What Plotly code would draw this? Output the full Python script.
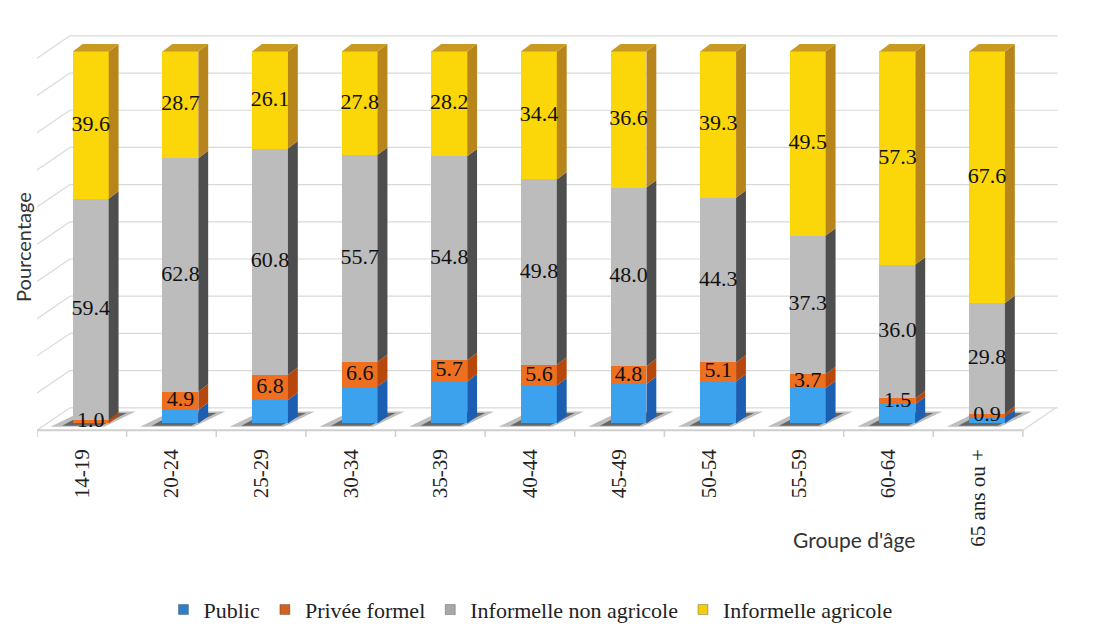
import plotly.graph_objects as go

# Age groups and employment-sector shares (%)
groupes = ["14-19", "20-24", "25-29", "30-34", "35-39", "40-44",
           "45-49", "50-54", "55-59", "60-64", "65 ans ou +"]
public = [0.0, 3.6, 6.3, 9.9, 11.3, 10.2, 10.6, 11.3, 9.5, 5.2, 1.7]
privee_formel = [1.0, 4.9, 6.8, 6.6, 5.7, 5.6, 4.8, 5.1, 3.7, 1.5, 0.9]
informel_non_agricole = [59.4, 62.8, 60.8, 55.7, 54.8, 49.8, 48.0, 44.3, 37.3, 36.0, 29.8]
informel_agricole = [39.6, 28.7, 26.1, 27.8, 28.2, 34.4, 36.6, 39.3, 49.5, 57.3, 67.6]

series = [
    # name, values, front colour, side colour, show value labels
    ("Public", public, "#3da2ee", "#1b5eb2", False),
    ("Privée formel", privee_formel, "#ee6f20", "#b8470c", True),
    ("Informelle non agricole", informel_non_agricole, "#bcbcbc", "#4e4e4e", True),
    ("Informelle agricole", informel_agricole, "#fbd70a", "#b8851a", True),
]
legend_colors = ["#2f7fc8", "#d2601e", "#a9a9a9", "#f2cd10"]

x = list(range(len(groupes)))
W = 0.40        # front face width (x units)
DX = 0.11       # pseudo-3D depth, x units
DY = 2.0        # pseudo-3D depth, y units
TOP_COLOR = "#c99a22"

SERIF = "Liberation Serif, Times New Roman, serif"
SANS = "Lato, Open Sans, sans-serif"

fig = go.Figure()

# Front faces: stacked bars
for name, vals, front, side, _ in series:
    fig.add_trace(go.Bar(
        x=x, y=vals, width=W, name=name, marker=dict(color=front, line=dict(width=0)),
        showlegend=False, hoverinfo="x+y+name",
    ))

# Right-hand side faces of each stacked segment
bases = [0.0] * len(x)
label_x, label_y, label_t = [], [], []
for name, vals, front, side, show in series:
    px, py = [], []
    for i, v in enumerate(vals):
        b, t = bases[i], bases[i] + v
        if v > 0:
            xr = i + W / 2
            px += [xr, xr + DX, xr + DX, xr, xr, None]
            py += [b, b + DY, t + DY, t, b, None]
        if show:
            label_x.append(i)
            label_y.append(b + v / 2)
            label_t.append(f"{v:.1f}")
        bases[i] = t
    fig.add_trace(go.Scatter(
        x=px, y=py, mode="lines", fill="toself", fillcolor=side,
        line=dict(width=0, color=side), showlegend=False, hoverinfo="skip",
    ))

# Top faces of the columns
tx, ty = [], []
for i in x:
    top = bases[i]
    xl, xr = i - W / 2, i + W / 2
    tx += [xl, xl + DX, xr + DX, xr, xl, None]
    ty += [top, top + DY, top + DY, top, top, None]
fig.add_trace(go.Scatter(
    x=tx, y=ty, mode="lines", fill="toself", fillcolor=TOP_COLOR,
    line=dict(width=0, color=TOP_COLOR), showlegend=False, hoverinfo="skip",
))

# Value labels
fig.add_trace(go.Scatter(
    x=label_x, y=label_y, text=label_t, mode="text",
    textfont=dict(family=SERIF, size=22, color="#111111"),
    showlegend=False, hoverinfo="skip",
))

# Legend entries (small square keys)
for (name, *_), col in zip(series, legend_colors):
    fig.add_trace(go.Scatter(
        x=[None], y=[None], mode="markers", name=name,
        marker=dict(symbol="square", size=10, color=col,
                    line=dict(width=1, color="rgba(0,0,0,0.25)")),
    ))

# Chart walls, floor and gridlines
X0, X1 = -0.6, 10.4          # front floor edge
BX = 0.368                   # back-wall x offset
BY = 6.04                    # back-wall y offset relative to front floor
FY = -1.84                   # front floor edge level
grid = "#d9d9d9"
shapes = []
for v in range(0, 101, 10):
    yb = v + FY + BY
    shapes.append(dict(type="line", xref="x", yref="y", x0=X0 + BX, x1=X1 + BX + 0.02,
                       y0=yb, y1=yb, line=dict(color=grid, width=1.2), layer="below"))
    shapes.append(dict(type="line", xref="x", yref="y", x0=X0, x1=X0 + BX,
                       y0=v + FY, y1=yb, line=dict(color=grid, width=1.2), layer="below"))
shapes.append(dict(type="line", xref="x", yref="y", x0=X0, x1=X1, y0=FY, y1=FY,
                   line=dict(color="#cfcfcf", width=2), layer="below"))
shapes.append(dict(type="line", xref="x", yref="y", x0=X1, x1=X1 + BX, y0=FY, y1=FY + BY,
                   line=dict(color=grid, width=1.2), layer="below"))
for k in range(len(groupes) + 1):
    shapes.append(dict(type="line", xref="x", yref="y", x0=X0 + k, x1=X0 + k,
                       y0=FY, y1=FY - 1.8, line=dict(color="#cfcfcf", width=1.5), layer="below"))
# Floor shadows behind each column
for i in x:
    shapes.append(dict(type="path", xref="x", yref="y", layer="below",
                       path=f"M {i-0.45},-0.9 L {i+0.15},-0.9 L {i+0.5},3.2 L {i-0.1},3.2 Z",
                       fillcolor="rgba(70,70,70,0.35)", line=dict(width=0)))
    shapes.append(dict(type="path", xref="x", yref="y", layer="below",
                       path=f"M {i-0.32},-0.6 L {i+0.12},-0.6 L {i+0.4},2.8 L {i-0.05},2.8 Z",
                       fillcolor="rgba(30,30,30,0.55)", line=dict(width=0)))

fig.update_layout(
    width=1100, height=643,
    margin=dict(l=37, r=35, t=30, b=193),
    paper_bgcolor="white", plot_bgcolor="white",
    font=dict(family=SERIF, color="#222222"),
    barmode="stack", bargap=0,
    shapes=shapes,
    xaxis=dict(
        range=[-0.6, 10.87], tickmode="array",
        tickvals=[i - 0.1 for i in x], ticktext=groupes,
        tickangle=-90, ticks="", showgrid=False, zeroline=False, showline=False,
        tickfont=dict(family=SERIF, size=21, color="#222222"),
        ticklabelstandoff=4,
    ),
    yaxis=dict(range=[-4.46, 105.77], showticklabels=False, showgrid=False,
               zeroline=False, showline=False),
    legend=dict(orientation="h", x=0.48, xanchor="center", y=-0.414, yanchor="middle",
                font=dict(family=SERIF, size=22, color="#222222"),
                itemwidth=30, traceorder="normal", bgcolor="rgba(0,0,0,0)"),
    annotations=[
        dict(text="Pourcentage", xref="paper", yref="paper", x=-0.0136, y=0.471,
             textangle=-90, showarrow=False, xanchor="center", yanchor="middle",
             font=dict(family=SANS, size=20, color="#333333")),
        dict(text="Groupe d'âge", xref="paper", yref="paper", x=0.795, y=-0.243,
             showarrow=False, xanchor="center", yanchor="middle",
             font=dict(family=SANS, size=21, color="#333333")),
    ],
)

fig.write_html("out.html")
